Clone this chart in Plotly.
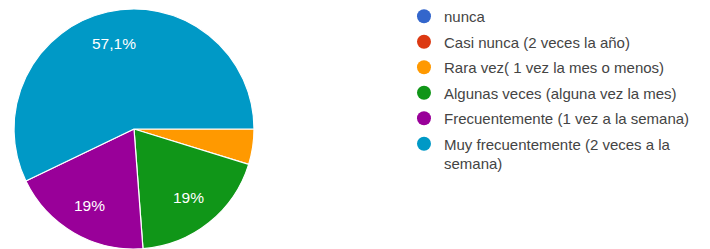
import math
import plotly.graph_objects as go

categories = [
    "nunca",
    "Casi nunca (2 veces la año)",
    "Rara vez( 1 vez la mes o menos)",
    "Algunas veces (alguna vez la mes)",
    "Frecuentemente (1 vez a la semana)",
    "Muy frecuentemente (2 veces a la<br>semana)",
]
counts = [0, 0, 1, 4, 4, 12]
colors = ["#3366cc", "#dc3912", "#ff9900", "#109618", "#990099", "#0099c6"]

W, H = 710, 249
# pie geometry (pixels in figure coordinates)
CX, CY, R = 134, 129, 120
START = 90.0  # degrees clockwise from 12 o'clock

total = sum(counts)
def fmt(v):
    p = 100.0 * v / total
    if p < 5:
        return ""
    s = f"{p:.1f}".rstrip("0").rstrip(".")
    return s.replace(".", ",") + "%"

fig = go.Figure()
fig.add_trace(go.Pie(
    labels=categories,
    values=counts,
    textinfo="none",
    marker=dict(colors=colors, line=dict(color="white", width=1.2)),
    sort=False,
    direction="clockwise",
    rotation=START,
    showlegend=False,
    hoverinfo="label+percent",
    domain=dict(x=[(CX - R) / W, (CX + R) / W],
                y=[max(0.0, 1 - (CY + R) / H), 1 - (CY - R) / H]),
))

# slice labels at mid-angle of each slice
acc = 0.0
for v in counts:
    t = fmt(v)
    mid = START + 360.0 * (acc + v / 2.0) / total
    acc += v
    if not t:
        continue
    a = math.radians(mid)
    px = CX + 0.735 * R * math.sin(a)
    py = CY - 0.735 * R * math.cos(a)
    fig.add_annotation(
        x=px / W, y=1 - py / H, xref="paper", yref="paper",
        xanchor="center", yanchor="middle",
        text=t, showarrow=False,
        font=dict(color="white", size=15.5, family="Arial, Liberation Sans"),
    )

for i, (c, col) in enumerate(zip(categories, colors)):
    fig.add_trace(go.Scatter(
        x=[None], y=[None], mode="markers", name=c,
        marker=dict(symbol="circle", size=14, color=col),
        legendgroup=f"g{i}",
        showlegend=True,
    ))

fig.update_layout(
    width=W, height=H,
    margin=dict(l=0, r=0, t=0, b=0),
    paper_bgcolor="white", plot_bgcolor="white",
    xaxis=dict(visible=False), yaxis=dict(visible=False),
    legend=dict(
        x=0.569, y=1.0, xanchor="left", yanchor="top",
        font=dict(family="Arial, Liberation Sans", size=15, color="#444444"),
        traceorder="grouped", tracegroupgap=3, valign="top",
        itemwidth=30,
    ),
)

fig.write_html("out.html", config={"displayModeBar": False},
               post_script="document.body.style.margin='0';")
